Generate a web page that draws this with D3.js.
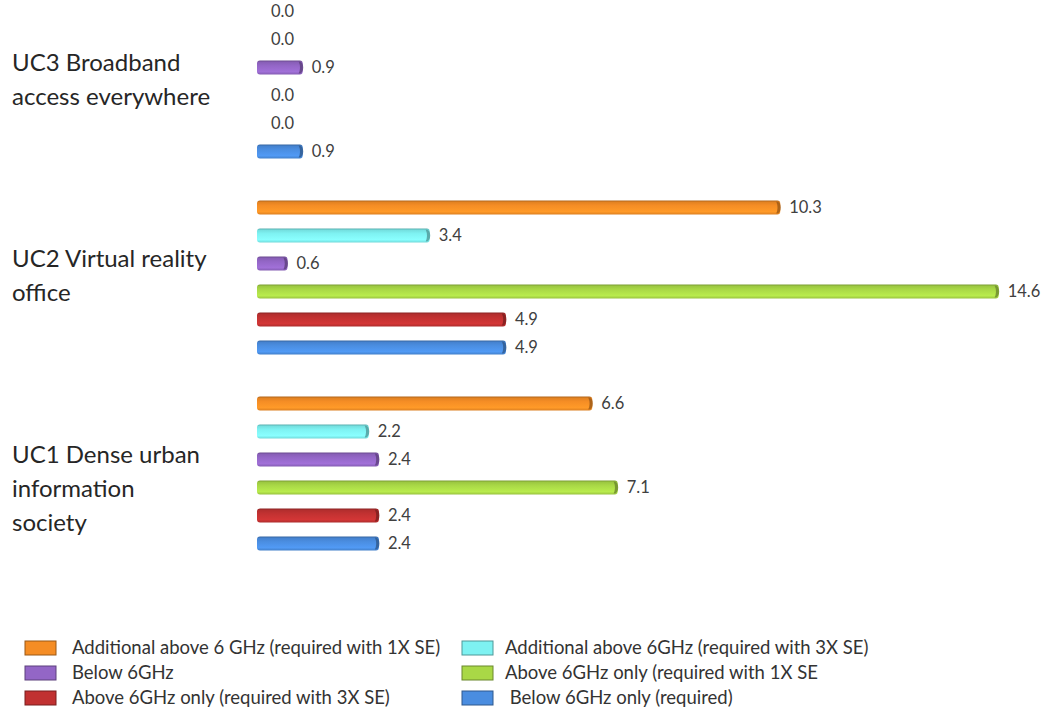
<!DOCTYPE html>
<html>
<head>
<meta charset="utf-8">
<script src="https://cdn.jsdelivr.net/npm/d3@7"></script>
<style>
  html, body { margin: 0; padding: 0; background: #fff; }
  svg { display: block; font-family: Lato, "Open Sans", sans-serif; }
</style>
</head>
<body>
<svg id="chart" width="1042" height="713"></svg>
<script>
// Use cases (top to bottom) and their wrapped axis labels
const categories = ["UC3", "UC2", "UC1"];
const categoryLines = [
  ["UC3 Broadband", "access everywhere"],
  ["UC2 Virtual reality", "office"],
  ["UC1 Dense urban", "information", "society"]
];

// Spectrum series, in bar order within each group (top to bottom)
const seriesNames = [
  "Additional above 6 GHz (required with 1X SE)",
  "Additional above 6GHz (required with 3X SE)",
  "Below 6GHz",
  "Above 6GHz only (required with 1X SE",
  "Above 6GHz only (required with 3X SE)",
  " Below 6GHz only (required)"
];
const seriesColors = ["#F58D25", "#7EF2F2", "#9366C6", "#A9D846", "#C13131", "#4A8DE0"];

// Values per series, one entry per use case [UC3, UC2, UC1]
const additional1x = [0.0, 10.3, 6.6];
const additional3x = [0.0, 3.4, 2.2];
const below6 = [0.9, 0.6, 2.4];
const above6only1x = [0.0, 14.6, 7.1];
const above6only3x = [0.0, 4.9, 2.4];
const below6only = [0.9, 4.9, 2.4];
const seriesValues = [additional1x, additional3x, below6, above6only1x, above6only3x, below6only];

const svg = d3.select("#chart");
const defs = svg.append("defs");

const x = d3.scaleLinear().domain([0, 15]).range([257, 1019]);
const y0 = d3.scaleBand().domain(categories).range([-16.5, 571.5])
  .paddingInner(1 / 7).paddingOuter(1 / 14);
const y1 = d3.scaleBand().domain(d3.range(seriesNames.length))
  .range([0, y0.bandwidth()]).paddingInner(0.5).paddingOuter(0.25);

// Cylinder-like shading for each series
seriesColors.forEach((c, i) => {
  const base = d3.color(c);
  const g = defs.append("linearGradient").attr("id", "grad" + i)
    .attr("x1", 0).attr("y1", 0).attr("x2", 0).attr("y2", 1);
  g.append("stop").attr("offset", "0%").attr("stop-color", base.darker(0.9));
  g.append("stop").attr("offset", "14%").attr("stop-color", base.darker(0.2));
  g.append("stop").attr("offset", "35%").attr("stop-color", base);
  g.append("stop").attr("offset", "80%").attr("stop-color", base.brighter(0.25));
  g.append("stop").attr("offset", "100%").attr("stop-color", base.darker(0.3));
});

// Bars
const rows = [];
categories.forEach((cat, ci) => {
  seriesValues.forEach((vals, si) => {
    rows.push({ cat, ci, si, v: vals[ci] });
  });
});

const barG = svg.append("g");
const h = y1.bandwidth();
rows.forEach(d => {
  const top = y0(d.cat) + y1(d.si);
  const x0 = x(0), x1 = x(d.v);
  if (d.v > 0) {
    barG.append("rect")
      .attr("x", x0).attr("y", top)
      .attr("width", x1 - x0).attr("height", h)
      .attr("rx", 3).attr("ry", 3)
      .attr("fill", `url(#grad${d.si})`);
    // dark rounded end cap
    const cap = d3.color(seriesColors[d.si]).darker(1.2);
    barG.append("path")
      .attr("d", `M${x1 - 4},${top + 1} Q${x1 + 0.5},${top + 1} ${x1 + 0.5},${top + h / 2} Q${x1 + 0.5},${top + h - 1} ${x1 - 4},${top + h - 1} Q${x1 - 1.5},${top + h / 2} ${x1 - 4},${top + 1} Z`)
      .attr("fill", cap).attr("opacity", 0.85);
  }
  // value label
  svg.append("text")
    .attr("x", x1 + (d.v > 0 ? 9 : 14))
    .attr("y", top + h / 2)
    .attr("dy", "0.35em")
    .attr("font-size", 16.5)
    .attr("fill", "#404040")
    .text(d3.format(".1f")(d.v));
});

// Category labels
categories.forEach((cat, ci) => {
  const center = y0(cat) + y0.bandwidth() / 2;
  const t = svg.append("text")
    .attr("x", 12)
    .attr("font-size", 24)
    .attr("fill", "#262626");
  categoryLines[ci].forEach((line, li) => {
    t.append("tspan")
      .attr("x", 12)
      .attr("y", center - 19 + li * 34)
      .attr("dy", "0.35em")
      .text(line);
  });
});

// Legend: two columns, three rows
const legend = svg.append("g");
const colX = [25, 462];
const rowY = [648, 673, 698];
seriesNames.forEach((name, i) => {
  const cx = colX[i % 2], cy = rowY[Math.floor(i / 2)];
  legend.append("rect")
    .attr("x", cx).attr("y", cy - 7)
    .attr("width", 31).attr("height", 14)
    .attr("fill", seriesColors[i])
    .attr("stroke", d3.color(seriesColors[i]).darker(1.3))
    .attr("stroke-width", 1);
  legend.append("text")
    .attr("x", cx + (i % 2 === 0 ? 47 : 43))
    .attr("y", cy)
    .attr("dy", "0.35em")
    .attr("font-size", 18.5)
    .attr("fill", "#333")
    .style("white-space", "pre")
    .text(name);
});
</script>
</body>
</html>
